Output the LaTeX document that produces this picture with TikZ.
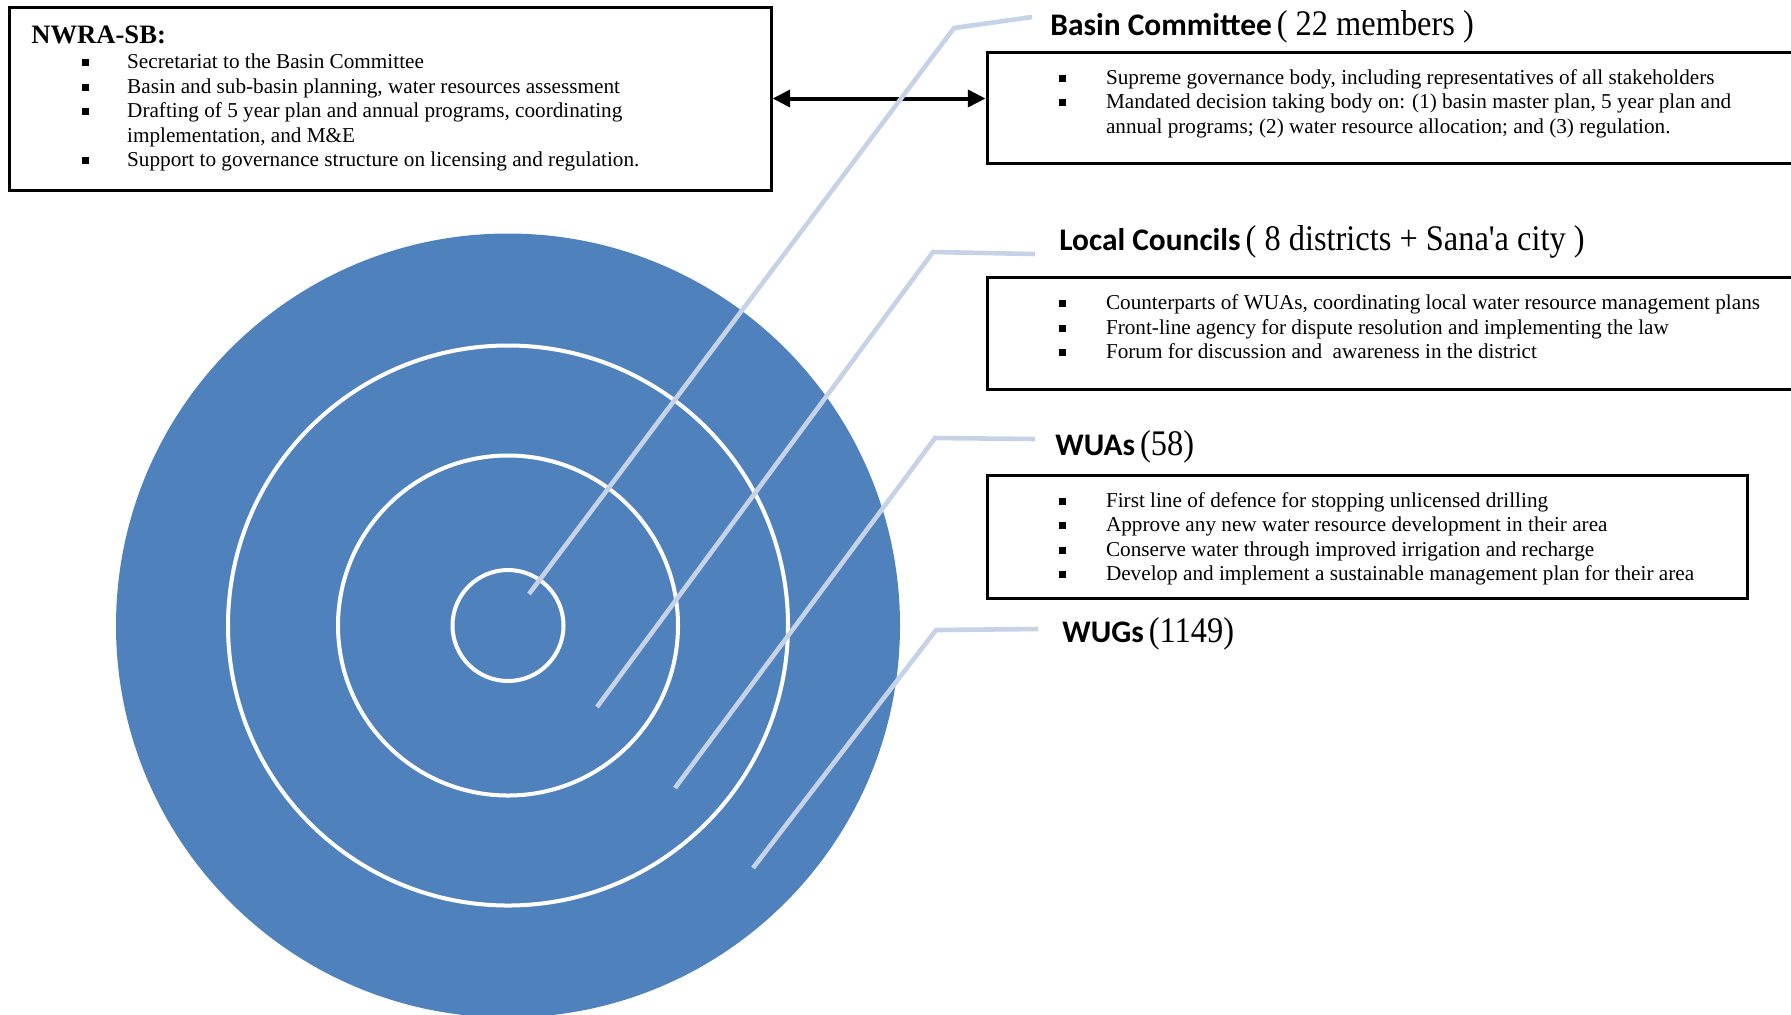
\documentclass[tikz,border=0pt]{standalone}
\usepackage{fontspec}
\setmainfont{Liberation Serif}
\newfontfamily\hsans{Carlito}
\usetikzlibrary{arrows.meta,fit}
\definecolor{ringblue}{RGB}{79,129,189}
\definecolor{leadercol}{RGB}{198,210,229}

% one bulleted line: name, bullet x, text x, baseline y, text
\newcommand\bitem[5]{%
  \node[bul] (#1-b) at (#2,#4-6) {};
  \node[itm] (#1) at (#3,#4) {#5};}
% heading: bold sans name followed by a narrow serif count
\newcommand\hd[2]{{\hsans\bfseries\fontsize{15.7}{17}\selectfont #1} \scalebox{0.9}[1]{\fontsize{18}{20}\selectfont #2}}

\begin{document}
\begin{tikzpicture}[x=0.5pt,y=-0.5pt,
  box/.style={draw=black,line width=1.5pt,inner sep=0pt},
  bul/.style={rectangle,fill=black,inner sep=0pt,minimum size=3.5pt},
  itm/.style={anchor=base west,inner sep=0pt,font=\fontsize{10.6}{12}\selectfont},
  hdr/.style={anchor=base west,inner sep=0pt},
  disc/.style={circle,fill=ringblue,inner sep=0pt},
  ring/.style={circle,draw=white,line width=2pt,inner sep=0pt},
  leader/.style={draw=leadercol,line width=2.3pt},
  dbl/.style={line width=2pt,{Triangle[length=8.8pt,width=8.4pt]}-{Triangle[length=8.8pt,width=8.4pt]}}
]
\useasboundingbox (0,0) rectangle (1791,1014);
\clip (0,0) rectangle (1791,1014);

% concentric target
\node[disc,minimum size=392pt] (wug) at (508,625.5) {};
\node[ring,minimum size=280pt] (wua) at (508,625.5) {};
\node[ring,minimum size=170pt] (lc) at (508,625.5) {};
\node[ring,minimum size=55.5pt] (bc) at (508,625.5) {};

% boxes
\node[box,fit={(9,7) (771,190)}] (nwra) {};
\node[box,fit={(987,52.5) (1800,163)}] (bcbox) {};
\node[box,fit={(987,277.6) (1800,389.5)}] (lcbox) {};
\node[box,fit={(987,475) (1747.6,598.5)}] (wuabox) {};

\draw[dbl] (nwra.east) -- (nwra.east -| bcbox.west);

% NWRA-SB text
\node[hdr,font=\bfseries\fontsize{13.3}{15}\selectfont] (nwrat) at (31,43) {NWRA-SB:};
\bitem{n1}{85.7}{126.8}{68.5}{Secretariat to the Basin Committee}
\bitem{n2}{85.7}{126.8}{93}{Basin and sub-basin planning, water resources assessment}
\bitem{n3}{85.7}{126.8}{117.5}{Drafting of 5 year plan and annual programs, coordinating}
\node[itm] (n3b) at (126.8,142) {implementation, and M\&E};
\bitem{n4}{85.7}{126.8}{166.5}{Support to governance structure on licensing and regulation.}

% headings
\node[hdr] (bch) at (1050,35) {\hd{Basin Committee}{( 22 members )}};
\node[hdr] (lch) at (1059,250) {\hd{Local Councils}{( 8 districts + Sana\textquotesingle a city )}};
\node[hdr] (wuah) at (1055,455) {\hd{WUAs}{(58)}};
\node[hdr] (wugh) at (1062,642) {\hd{WUGs}{(1149)}};

% Basin Committee
\bitem{c1}{1062}{1105.6}{84.5}{Supreme governance body, including representatives of all stakeholders}
\bitem{c2}{1062}{1105.6}{108.5}{Mandated decision taking body on: (1) basin master plan, 5 year plan and}
\node[itm] (c2b) at (1105.6,133) {annual programs; (2) water resource allocation; and (3) regulation.};

% Local Councils
\bitem{l1}{1062}{1105.6}{309.5}{Counterparts of WUAs, coordinating local water resource management plans}
\bitem{l2}{1062}{1105.6}{334}{Front-line agency for dispute resolution and implementing the law}
\bitem{l3}{1062}{1105.6}{358.5}{Forum for discussion and\ \ awareness in the district}

% WUAs
\bitem{w1}{1062}{1105.6}{507}{First line of defence for stopping unlicensed drilling}
\bitem{w2}{1062}{1105.6}{531.5}{Approve any new water resource development in their area}
\bitem{w3}{1062}{1105.6}{556}{Conserve water through improved irrigation and recharge}
\bitem{w4}{1062}{1105.6}{580.5}{Develop and implement a sustainable management plan for their area}

% leader lines from each ring to its heading
\coordinate (a1) at (529,594);   \coordinate (k1) at (954,28);  \coordinate (e1) at (1032,17);
\coordinate (a2) at (597,707);   \coordinate (k2) at (933,252); \coordinate (e2) at (1035,254);
\coordinate (a3) at (675,788);   \coordinate (k3) at (935,438); \coordinate (e3) at (1035,439);
\coordinate (a4) at (753,868);   \coordinate (k4) at (936,630); \coordinate (e4) at (1038,629);
\draw[leader] (a1) -- (k1) -- (e1);
\draw[leader] (a2) -- (k2) -- (e2);
\draw[leader] (a3) -- (k3) -- (e3);
\draw[leader] (a4) -- (k4) -- (e4);
\end{tikzpicture}
\end{document}
